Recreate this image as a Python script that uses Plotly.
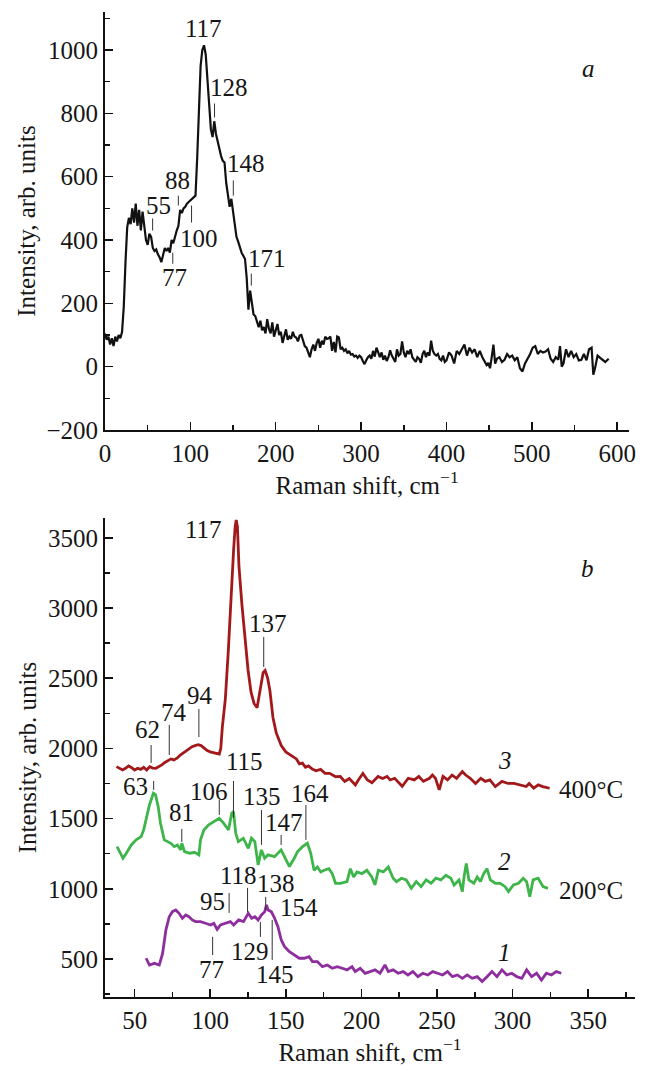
import plotly.graph_objects as go

# ---------------- Panel a data ----------------
shift_a = [0, 2, 4, 6, 8, 10, 12, 14, 16, 18, 20, 22, 24, 26, 28, 30, 32, 34, 36, 38, 40, 42, 44, 46, 48, 50,
           52, 54, 56, 58, 60, 62, 64, 66, 68, 70, 72, 74, 76, 78, 80, 82, 84, 86, 88, 90, 92, 94, 96, 98, 100,
           102, 104, 106, 108, 110, 112, 114, 116, 118, 120, 122, 124, 126, 128, 130, 132, 134, 136, 138, 140,
           142, 144, 146, 148, 150, 152, 154, 156, 158, 160, 162, 164, 166, 168, 170, 172, 174, 176, 178, 180,
           182, 184, 186, 188, 190, 192, 194, 196, 198, 200, 202, 204, 206, 208, 210, 212, 214, 216, 218, 220,
           222, 224, 226, 228, 230, 232, 234, 236, 238, 240, 242, 244, 246, 248, 250, 252, 254, 256, 258, 260,
           262, 264, 266, 268, 270, 272, 274, 276, 278, 280, 282, 284, 286, 288, 290, 292, 294, 296, 298, 300,
           302, 304, 306, 308, 310, 312, 314, 316, 318, 320, 322, 324, 326, 328, 330, 332, 334, 336, 338, 340,
           342, 344, 346, 348, 350, 352, 354, 356, 358, 360, 362, 364, 366, 368, 370, 372, 374, 376, 378, 380,
           382, 384, 386, 388, 390, 392, 394, 396, 398, 400, 403, 406, 409, 412, 415, 418, 421, 424, 427, 430,
           433, 436, 439, 442, 445, 447, 449, 451, 453, 455, 457, 459, 462, 465, 468, 471, 474, 477, 480, 483,
           486, 489, 492, 495, 498, 501, 504, 507, 510, 513, 516, 519, 522, 525, 528, 531, 533, 535, 537, 540,
           543, 546, 549, 552, 555, 558, 561, 564, 567, 570, 572, 574, 577, 580, 583, 586, 590]
intensity_a = [105, 85, 95, 70, 90, 65, 95, 80, 100, 90, 110, 190, 330, 440, 470, 450, 500, 455, 515, 445, 495,
               430, 490, 450, 400, 385, 420, 410, 375, 365, 370, 355, 345, 330, 355, 375, 365, 375, 360, 400, 390,
               415, 430, 445, 495, 485, 500, 505, 515, 520, 525, 530, 535, 540, 660, 830, 950, 1000, 1015, 985,
               910, 820, 750, 725, 775, 735, 710, 690, 665, 650, 645, 580, 540, 505, 530, 490, 445, 410, 395, 375,
               360, 350, 340, 280, 180, 240, 200, 165, 160, 140, 125, 145, 115, 125, 105, 150, 120, 105, 140, 95,
               120, 135, 100, 110, 75, 100, 118, 85, 95, 88, 110, 95, 92, 80, 98, 100, 85, 65, 60, 45, 30, 55, 70,
               50, 75, 88, 60, 82, 70, 95, 88, 90, 95, 50, 78, 45, 95, 92, 55, 60, 50, 55, 42, 50, 38, 40, 32, 35,
               28, 35, 30, 18, 8, 20, 30, 35, 25, 50, 32, 60, 42, 30, 45, 22, 35, 18, 30, 52, 35, 25, 15, 55, 35,
               40, 80, 45, 30, 50, 40, 55, 30, 22, 15, 30, 25, 12, 40, 50, 30, 45, 35, 82, 50, 40, 35, 40, 25, 20,
               35, 15, 20, 45, 35, 10, 50, 40, 55, 70, 35, 60, 45, 55, 30, 50, 30, 15, 5, 12, -5, 30, 70, 10, 25,
               30, 15, 22, 40, 30, 35, 20, 30, -5, -15, 10, 25, 40, 60, 65, 40, 50, 45, 48, 55, 25, 15, 30, 22, 65,
               0, 10, 55, 30, 50, 30, 40, 20, 22, 40, 20, 55, 60, -25, -5, 35, 28, 20, 15, 25]

# ---------------- Panel b data ----------------
shift_400 = [38, 40, 42, 44, 46, 48, 50, 52, 54, 56, 58, 60, 62, 64, 66, 68, 70, 72, 74, 76, 78, 80, 82, 84, 86,
             88, 90, 92, 94, 96, 98, 100, 102, 104, 106, 107, 108, 110, 112, 114, 115.5, 116.5, 117.2, 118, 119,
             121, 123, 125, 127, 129, 131, 133, 135, 136.3, 138, 139.5, 141.5, 143.7, 147, 150, 153.5, 157, 159,
             161, 163, 165, 167.5, 170, 173, 176, 179, 181, 183, 186, 189, 192, 196, 198, 201, 204, 207, 211, 214,
             217, 219, 222, 227, 231, 235, 238, 241, 245, 247, 249, 251.5, 254, 257, 260, 263, 266.8, 269, 272,
             275.5, 279, 282, 285, 288.6, 293, 297, 301, 305, 309, 311, 314, 317, 320, 324.5]
intensity_400 = [1870, 1860, 1846, 1858, 1875, 1862, 1846, 1858, 1850, 1865, 1846, 1870, 1860, 1858, 1870, 1882,
                 1900, 1915, 1925, 1918, 1930, 1950, 1965, 1985, 2000, 2012, 2020, 2026, 2020, 2000, 1985, 1975,
                 1968, 1965, 1960, 2000, 2150, 2350, 2700, 3150, 3420, 3580, 3627, 3580, 3300, 3020, 2790, 2560,
                 2400, 2320, 2290, 2420, 2540, 2555, 2500, 2410, 2220, 2110, 2020, 1975, 1950, 1925, 1890, 1895,
                 1865, 1875, 1852, 1840, 1850, 1822, 1822, 1810, 1798, 1800, 1765, 1785, 1740, 1775, 1822, 1775,
                 1755, 1800, 1785, 1800, 1775, 1787, 1730, 1787, 1775, 1800, 1765, 1787, 1810, 1787, 1704, 1800,
                 1775, 1810, 1787, 1834, 1810, 1787, 1750, 1787, 1765, 1775, 1728, 1765, 1750, 1750, 1740, 1728,
                 1750, 1716, 1740, 1728, 1716]

shift_200 = [38.4, 40.5, 42.3, 44.5, 47.8, 51, 54.3, 56, 57.6, 59.8, 62.4, 63.8, 65.6, 67.1, 69.6, 71.8, 74, 76.2,
             78.3, 80.5, 81.2, 83, 86.5, 89.7, 92.5, 93.6, 95.8, 99, 102.3, 104, 106, 108.8, 112.1, 114.2, 115.4,
             116.9, 118.6, 121.9, 125.2, 127.3, 129.5, 131.7, 133.9, 136, 138.2, 142.6, 146.9, 149.1, 152.4, 155.6,
             157.8, 161.1, 164.3, 166.5, 168.7, 170.9, 173.1, 175.3, 178.5, 180.7, 182.9, 186.2, 190.5, 192.7,
             194.9, 197.1, 200.3, 203.6, 206.9, 209.0, 211.2, 214.5, 217.8, 221.0, 223.2, 226.5, 229.7, 233.0,
             236.3, 239.5, 242.8, 246.1, 249.3, 252.6, 255.9, 259.2, 261.3, 264.6, 266.8, 267.9, 269.4, 271.1,
             274.4, 276.6, 278.8, 280.9, 283.1, 285.3, 288.6, 291.8, 295.1, 297.3, 300.6, 303.9, 307.1, 309.3,
             311.4, 313.6, 316.9, 320.2, 323.4]
intensity_200 = [1300, 1250, 1217, 1253, 1312, 1348, 1371, 1420, 1490, 1597, 1680, 1670, 1585, 1467, 1348, 1336,
                 1324, 1300, 1312, 1277, 1324, 1265, 1253, 1260, 1241, 1348, 1419, 1455, 1479, 1490, 1502, 1467,
                 1419, 1538, 1550, 1395, 1336, 1360, 1288, 1360, 1336, 1170, 1277, 1217, 1241, 1229, 1277, 1229,
                 1158, 1217, 1265, 1300, 1324, 1253, 1132, 1155, 1120, 1132, 1143, 1108, 1039, 1039, 1051, 1143,
                 1084, 1120, 1108, 1132, 1084, 1027, 1132, 1120, 1155, 1075, 1051, 1075, 1063, 1003, 1051, 1015,
                 1063, 1039, 1075, 1063, 1096, 1075, 1027, 1063, 980, 1084, 1181, 1063, 1039, 1084, 1051, 1108,
                 1143, 1063, 1039, 1039, 1015, 980, 1027, 1039, 1075, 1051, 944, 1063, 1075, 1015, 1003]

shift_initial = [57.6, 59.8, 63.1, 66.3, 68.5, 70.7, 72.9, 75.0, 77.2, 79.4, 81.6, 83.8, 85.9, 88.1, 90.3, 93.6,
                 96.9, 100.2, 102.4, 104.6, 106.8, 110.0, 113.3, 115.5, 118.8, 122.0, 125.2, 127.4, 129.6, 131.7,
                 133.9, 136.1, 137.2, 138.3, 140.4, 142.6, 144.8, 147.0, 149.2, 152.4, 155.6, 158.9, 162.2, 165.4,
                 167.6, 170.9, 174.2, 177.5, 180.7, 184.0, 187.3, 190.5, 193.8, 195.9, 199.2, 202.5, 205.8, 209.0,
                 212.3, 215.6, 217.8, 221.0, 224.3, 227.6, 230.8, 234.1, 237.4, 240.6, 243.9, 247.2, 250.4, 253.7,
                 257.0, 260.2, 263.5, 266.8, 270.0, 273.3, 276.6, 279.9, 283.1, 286.4, 289.7, 293.0, 296.2, 299.5,
                 302.8, 306.1, 309.3, 312.6, 315.9, 319.1, 322.4, 325.7, 328.9, 332.2]
intensity_initial = [505, 457, 469, 457, 540, 707, 801, 837, 849, 825, 790, 813, 801, 778, 766, 766, 754, 742, 754,
                     711, 742, 754, 766, 742, 778, 766, 825, 790, 801, 778, 813, 837, 885, 849, 837, 790, 730, 635,
                     588, 552, 528, 505, 505, 517, 481, 481, 445, 457, 434, 445, 434, 422, 445, 410, 434, 398, 410,
                     422, 398, 457, 410, 422, 398, 410, 386, 410, 374, 398, 386, 410, 398, 386, 410, 374, 386, 362,
                     386, 362, 374, 339, 374, 410, 374, 422, 386, 398, 374, 362, 422, 374, 398, 350, 398, 386, 410, 398]

# Peak labels: (text, label x, label y, marker x, marker y0, marker y1)
peaks_a = [("117", 115.6, 1068, None, None, None),
           ("128", 145.7, 882, 128.3, 831, 787),
           ("148", 165.3, 641, 150.3, 588, 540),
           ("88", 85.5, 588, 85.9, 540, 509),
           ("55", 62.4, 509, 55.8, 468, 430),
           ("100", 109.8, 404, 101.4, 509, 455),
           ("77", 80.9, 281, 79.4, 360, 325),
           ("171", 189.6, 341, 171.4, 294, 256)]
peaks_b = [("117", 95.8, 3556, None, None, None),
           ("137", 138.2, 2893, 135.4, 2794, 2580),
           ("94", 93.1, 2380, 92.5, 2281, 2081),
           ("74", 76.1, 2259, 72.9, 2167, 1953),
           ("62", 58.5, 2131, 60.9, 2024, 1896),
           ("115", 122.5, 1903, 115.4, 1768, 1504),
           ("63", 50.7, 1725, 62.6, 1768, 1704),
           ("106", 99.0, 1690, 106.0, 1633, 1526),
           ("81", 80.7, 1540, 81.2, 1426, 1333),
           ("135", 134.3, 1654, 133.9, 1561, 1312),
           ("164", 165.7, 1682, 163.3, 1597, 1348),
           ("147", 148.7, 1469, 146.9, 1383, 1312),
           ("118", 118.6, 1098, 124.7, 1006, 835),
           ("138", 143.5, 1041, 136.7, 942, 849),
           ("95", 101.6, 906, 112.5, 970, 828),
           ("154", 158.5, 863, None, None, None),
           ("129", 126.5, 550, 133.2, 764, 657),
           ("77", 101.0, 422, 101.6, 657, 528),
           ("145", 142.8, 386, 141.0, 778, 493)]

FONT = "Liberation Serif, Times New Roman, Times, serif"
TXT = "#161616"
fig = go.Figure()

fig.add_trace(go.Scatter(x=shift_a, y=intensity_a, mode="lines", xaxis="x", yaxis="y",
                         line=dict(color="#111111", width=2.2), showlegend=False, hoverinfo="skip"))
fig.add_trace(go.Scatter(x=shift_400, y=intensity_400, mode="lines", xaxis="x2", yaxis="y2",
                         line=dict(color="#a3191b", width=2.8), showlegend=False, hoverinfo="skip"))
fig.add_trace(go.Scatter(x=shift_200, y=intensity_200, mode="lines", xaxis="x2", yaxis="y2",
                         line=dict(color="#3db54a", width=2.8), showlegend=False, hoverinfo="skip"))
fig.add_trace(go.Scatter(x=shift_initial, y=intensity_initial, mode="lines", xaxis="x2", yaxis="y2",
                         line=dict(color="#8e2d9e", width=2.8), showlegend=False, hoverinfo="skip"))

annotations = []
shapes = []
for ref, peaks in (("", peaks_a), ("2", peaks_b)):
    for text, lx, ly, mx, my0, my1 in peaks:
        annotations.append(dict(text=text, x=lx, y=ly, xref="x" + ref, yref="y" + ref, showarrow=False,
                                font=dict(family=FONT, size=25, color=TXT)))
        if mx is not None:
            shapes.append(dict(type="line", xref="x" + ref, yref="y" + ref, x0=mx, x1=mx, y0=my0, y1=my1,
                               line=dict(color="#333333", width=1)))

extra_b = [("<i>3</i>", 295.1, 1917), ("400°C", 352, 1704), ("<i>2</i>", 294.4, 1191),
           ("200°C", 352, 991), ("<i>1</i>", 294.4, 543), ("<i>b</i>", 349.3, 3278)]
for text, lx, ly in extra_b:
    annotations.append(dict(text=text, x=lx, y=ly, xref="x2", yref="y2", showarrow=False,
                            font=dict(family=FONT, size=25, color=TXT)))
annotations.append(dict(text="<i>a</i>", x=566, y=942, xref="x", yref="y", showarrow=False,
                        font=dict(family=FONT, size=25, color=TXT)))

axis_common = dict(showline=True, linecolor="#111111", linewidth=2, showgrid=False, zeroline=False,
                   ticks="inside", ticklen=8, tickwidth=1.5, tickcolor="#111111",
                   tickfont=dict(family=FONT, size=25, color=TXT), mirror=False)
title_font = dict(family=FONT, size=25, color=TXT)

fig.update_layout(
    width=645, height=1066,
    margin=dict(l=105, r=3, t=12, b=69),
    paper_bgcolor="white", plot_bgcolor="white",
    font=dict(family=FONT, color=TXT),
    hovermode=False,
    xaxis=dict(domain=[0, 0.989], range=[0, 614], anchor="y", dtick=100, tick0=0,
               minor=dict(ticks="inside", dtick=50, ticklen=5, tickcolor="#111111"),
               title=dict(text="Raman shift, cm<sup>−1</sup>", font=title_font, standoff=0),
               **axis_common),
    yaxis=dict(domain=[0.5756, 1.0], range=[-200, 1120], anchor="x", dtick=200, tick0=0,
               minor=dict(ticks="inside", dtick=100, ticklen=5, tickcolor="#111111"),
               title=dict(text="Intensity, arb. units", font=title_font, standoff=4),
               **axis_common),
    xaxis2=dict(domain=[0, 1.0], range=[30.4, 381], anchor="y2", dtick=50, tick0=0,
                minor=dict(ticks="inside", dtick=25, ticklen=5, tickcolor="#111111"),
                title=dict(text="Raman shift, cm<sup>−1</sup>", font=title_font, standoff=0),
                **axis_common),
    yaxis2=dict(domain=[0, 0.4863], range=[229, 3641], anchor="x2", dtick=500, tick0=0,
                minor=dict(ticks="inside", dtick=250, ticklen=5, tickcolor="#111111"),
                title=dict(text="Intensity, arb. units", font=title_font, standoff=4),
                **axis_common),
    annotations=annotations,
    shapes=shapes,
)

fig.write_html("out.html", config={"displayModeBar": False, "staticPlot": True},
               post_script="document.body.style.margin='0';document.body.style.overflow='hidden';")
